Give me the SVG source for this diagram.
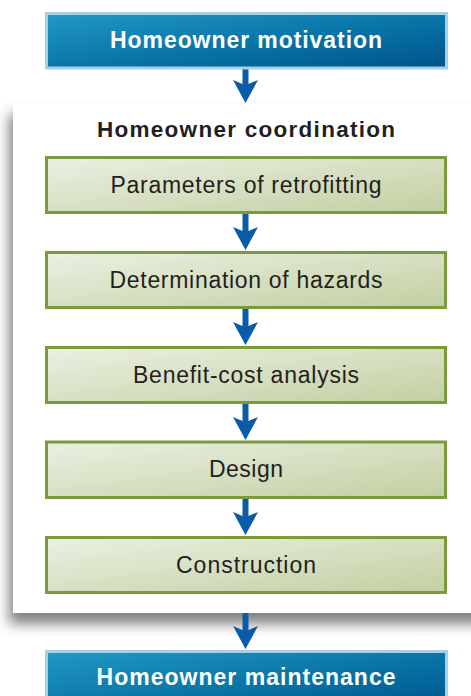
<svg xmlns="http://www.w3.org/2000/svg" width="471" height="696" viewBox="0 0 471 696">
<defs>
<linearGradient id="gBlue" x1="0" y1="0" x2="1" y2="1">
<stop offset="0" stop-color="#2299c3"/>
<stop offset="0.55" stop-color="#0873a6"/>
<stop offset="1" stop-color="#00538a"/>
</linearGradient>
<linearGradient id="gGreen" x1="0" y1="0" x2="1" y2="1">
<stop offset="0" stop-color="#ebf0e2"/>
<stop offset="1" stop-color="#c3cfa2"/>
</linearGradient>
<filter id="shadow" x="-20%" y="-20%" width="140%" height="140%">
<feDropShadow dx="-4" dy="11" stdDeviation="6.5" flood-color="#404040" flood-opacity="0.65"/>
</filter>
</defs>
<style>
.blue{fill:url(#gBlue);stroke:#a6d0e6;stroke-width:3}
.green{fill:url(#gGreen);stroke:#7b9a3c;stroke-width:3}
.arrow{fill:#0a5ca8;stroke:none}
.tw{font-family:"Liberation Sans",Arial,Helvetica,sans-serif;font-weight:bold;font-size:23px;fill:#ffffff;text-anchor:middle}
.tb{font-family:"Liberation Sans",Arial,Helvetica,sans-serif;font-weight:bold;font-size:22.5px;fill:#231f20;text-anchor:middle}
.tg{font-family:"Liberation Sans",Arial,Helvetica,sans-serif;font-size:23px;fill:#231f20;text-anchor:middle}
</style>
<rect width="471" height="696" fill="#ffffff"/>

<g id="panel">
<rect x="13" y="103" width="480" height="510" fill="#ffffff" filter="url(#shadow)"/>
<text class="tb" x="246" y="137" textLength="298" lengthAdjust="spacing">Homeowner coordination</text>
</g>

<g id="connectors">
<path class="arrow" d="M242.5,69 L248.5,69 L248.5,84 L258,80 L245.5,103 L233,80 L242.5,84 Z"/>
<path class="arrow" d="M242.5,214 L248.5,214 L248.5,231 L258,227 L245.5,250 L233,227 L242.5,231 Z"/>
<path class="arrow" d="M242.5,309 L248.5,309 L248.5,326 L258,322 L245.5,345 L233,322 L242.5,326 Z"/>
<path class="arrow" d="M242.5,404 L248.5,404 L248.5,421 L258,417 L245.5,440 L233,417 L242.5,421 Z"/>
<path class="arrow" d="M242.5,499 L248.5,499 L248.5,516 L258,512 L245.5,535 L233,512 L242.5,516 Z"/>
<path class="arrow" d="M242.5,613 L248.5,613 L248.5,630 L258,626 L245.5,649 L233,626 L242.5,630 Z"/>
</g>

<g id="motivation">
<rect class="blue" x="46.5" y="13.5" width="400" height="54.5"/>
<text class="tw" x="246" y="48" textLength="272" lengthAdjust="spacing">Homeowner motivation</text>
</g>

<g id="parameters">
<rect class="green" x="46.5" y="157.5" width="399" height="55"/>
<text class="tg" x="246" y="192.5" textLength="271" lengthAdjust="spacing">Parameters of retrofitting</text>
</g>

<g id="hazards">
<rect class="green" x="46.5" y="252.5" width="399" height="55"/>
<text class="tg" x="246" y="287.5" textLength="273" lengthAdjust="spacing">Determination of hazards</text>
</g>

<g id="benefit">
<rect class="green" x="46.5" y="347.5" width="399" height="55"/>
<text class="tg" x="246" y="382.5" textLength="226" lengthAdjust="spacing">Benefit-cost analysis</text>
</g>

<g id="design">
<rect class="green" x="46.5" y="442" width="399" height="55.5"/>
<text class="tg" x="246" y="477" textLength="74" lengthAdjust="spacing">Design</text>
</g>

<g id="construction">
<rect class="green" x="46.5" y="537.5" width="399" height="55"/>
<text class="tg" x="246" y="572.5" textLength="140" lengthAdjust="spacing">Construction</text>
</g>

<g id="maintenance">
<rect class="blue" x="46.5" y="651.5" width="400" height="60"/>
<text class="tw" x="246" y="685" textLength="299" lengthAdjust="spacing">Homeowner maintenance</text>
</g>
</svg>
